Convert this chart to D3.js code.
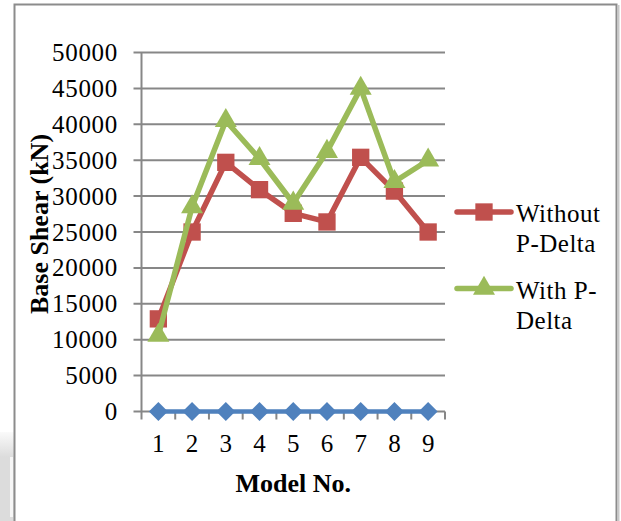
<!DOCTYPE html>
<html>
<head>
<meta charset="utf-8">
<script src="https://cdn.jsdelivr.net/npm/d3@7"></script>
<style>
  html, body { margin: 0; padding: 0; background: #fff; }
  svg { display: block; }
  text { font-family: "Liberation Serif", "Times New Roman", serif; fill: #000; }
</style>
</head>
<body>
<svg id="chart" width="621" height="521"></svg>
<script>
// Chart data
const models = [1, 2, 3, 4, 5, 6, 7, 8, 9];
const zeroSeries = [0, 0, 0, 0, 0, 0, 0, 0, 0];
const withoutPDelta = [12900, 25000, 34700, 30900, 27600, 26400, 35400, 30700, 25000];
const withPDelta = [10600, 28500, 40500, 35200, 29000, 36200, 45000, 32000, 35000];
const yTicks = [0, 5000, 10000, 15000, 20000, 25000, 30000, 35000, 40000, 45000, 50000];

const svg = d3.select('#chart');

// page decoration on the left edge
const deco = svg.append('defs').append('linearGradient')
  .attr('id', 'deco').attr('x1', '0%').attr('x2', '0%').attr('y1', '0%').attr('y2', '100%');
deco.append('stop').attr('offset', '0%').attr('stop-color', '#fafafa');
deco.append('stop').attr('offset', '100%').attr('stop-color', '#dcdcdc');
svg.append('rect').attr('x', 0).attr('y', 432).attr('width', 14).attr('height', 25).attr('fill', 'url(#deco)');
svg.append('rect').attr('x', 0).attr('y', 457).attr('width', 14).attr('height', 64).attr('fill', '#dcdcdc');
svg.append('rect').attr('x', 10).attr('y', 457).attr('width', 3).attr('height', 60).attr('fill', '#f6f6f6');

// chart border
svg.append('path')
  .attr('d', 'M14.5,521 V4.5 H616.5 V521')
  .attr('fill', 'none')
  .attr('stroke', '#8c8c8c')
  .attr('stroke-width', 2);
svg.append('line').attr('x1', 618.5).attr('x2', 618.5).attr('y1', 5).attr('y2', 521)
  .attr('stroke', '#c8c8c8').attr('stroke-width', 2);

const plotLeft = 141.5, plotRight = 445, plotTop = 52.5, plotBottom = 411.5;

const x = d3.scaleBand().domain(models).range([plotLeft, plotRight]);
const y = d3.scaleLinear().domain([0, 50000]).range([plotBottom, plotTop]);
const cx = d => x(d) + x.bandwidth() / 2;

const grey = '#878787';

// gridlines + y ticks
svg.append('g')
  .selectAll('line')
  .data(yTicks)
  .join('line')
  .attr('x1', plotLeft - 8).attr('x2', plotRight)
  .attr('y1', d => y(d)).attr('y2', d => y(d))
  .attr('stroke', grey).attr('stroke-width', 2);

// y axis line
svg.append('line')
  .attr('x1', plotLeft).attr('x2', plotLeft).attr('y1', plotTop).attr('y2', plotBottom + 8)
  .attr('stroke', grey).attr('stroke-width', 2);

// x ticks at category boundaries
const bounds = models.map(m => x(m)).slice(1).concat([plotRight]);
svg.append('g')
  .selectAll('line')
  .data(bounds)
  .join('line')
  .attr('x1', d => d).attr('x2', d => d)
  .attr('y1', plotBottom).attr('y2', plotBottom + 8)
  .attr('stroke', grey).attr('stroke-width', 2);

// y tick labels
svg.append('g')
  .selectAll('text')
  .data(yTicks)
  .join('text')
  .attr('x', 118)
  .attr('y', d => y(d))
  .attr('dy', '0.34em')
  .attr('text-anchor', 'end')
  .style('font-size', '25px')
  .style('letter-spacing', '0.7px')
  .text(d => d);

// x tick labels
svg.append('g')
  .selectAll('text')
  .data(models)
  .join('text')
  .attr('x', d => cx(d))
  .attr('y', 451.5)
  .attr('text-anchor', 'middle')
  .style('font-size', '25px')
  .text(d => d);

// axis titles
svg.append('text')
  .attr('x', (plotLeft + plotRight) / 2).attr('y', 491.5)
  .attr('text-anchor', 'middle')
  .style('font-size', '26px').style('font-weight', 'bold')
  .text('Model No.');

svg.append('text')
  .attr('transform', 'translate(48,224) rotate(-90)')
  .attr('text-anchor', 'middle')
  .style('font-size', '26px').style('font-weight', 'bold')
  .text('Base Shear (kN)');

// series
const line = d3.line().x((d, i) => cx(models[i])).y(d => y(d));

const series = [
  { name: 'zero', values: zeroSeries, color: '#4F81BD', width: 4.5, symbol: d3.symbolDiamond2, size: 230 },
  { name: 'Without P-Delta', values: withoutPDelta, color: '#C0504D', width: 5.5, symbol: d3.symbolSquare, size: 300 },
  { name: 'With P-Delta', values: withPDelta, color: '#9BBB59', width: 5.5, symbol: d3.symbolTriangle, size: 210 }
];

series.forEach(s => {
  svg.append('path')
    .datum(s.values)
    .attr('d', line)
    .attr('fill', 'none')
    .attr('stroke', s.color)
    .attr('stroke-width', s.width)
    .attr('stroke-linejoin', 'round')
    .attr('stroke-linecap', 'round');

  svg.append('g')
    .selectAll('path')
    .data(s.values)
    .join('path')
    .attr('transform', (d, i) => `translate(${cx(models[i])},${y(d)})`)
    .attr('d', d3.symbol().type(s.symbol).size(s.size))
    .attr('fill', s.color);
});

// legend
const legendItems = [
  { s: series[1], y: 212, lines: ['Without', 'P-Delta'] },
  { s: series[2], y: 288.5, lines: ['With P-', 'Delta'] }
];

legendItems.forEach(item => {
  const g = svg.append('g');
  g.append('line')
    .attr('x1', 457).attr('x2', 511).attr('y1', item.y).attr('y2', item.y)
    .attr('stroke', item.s.color).attr('stroke-width', item.s.width)
    .attr('stroke-linecap', 'round');
  g.append('path')
    .attr('transform', `translate(484,${item.y})`)
    .attr('d', d3.symbol().type(item.s.symbol).size(item.s.size))
    .attr('fill', item.s.color);
  g.selectAll('text')
    .data(item.lines)
    .join('text')
    .attr('x', 516)
    .attr('y', (d, i) => item.y + 10 + i * 30)
    .style('font-size', '25px')
    .style('letter-spacing', '0.5px')
    .text(d => d);
});
</script>
</body>
</html>
